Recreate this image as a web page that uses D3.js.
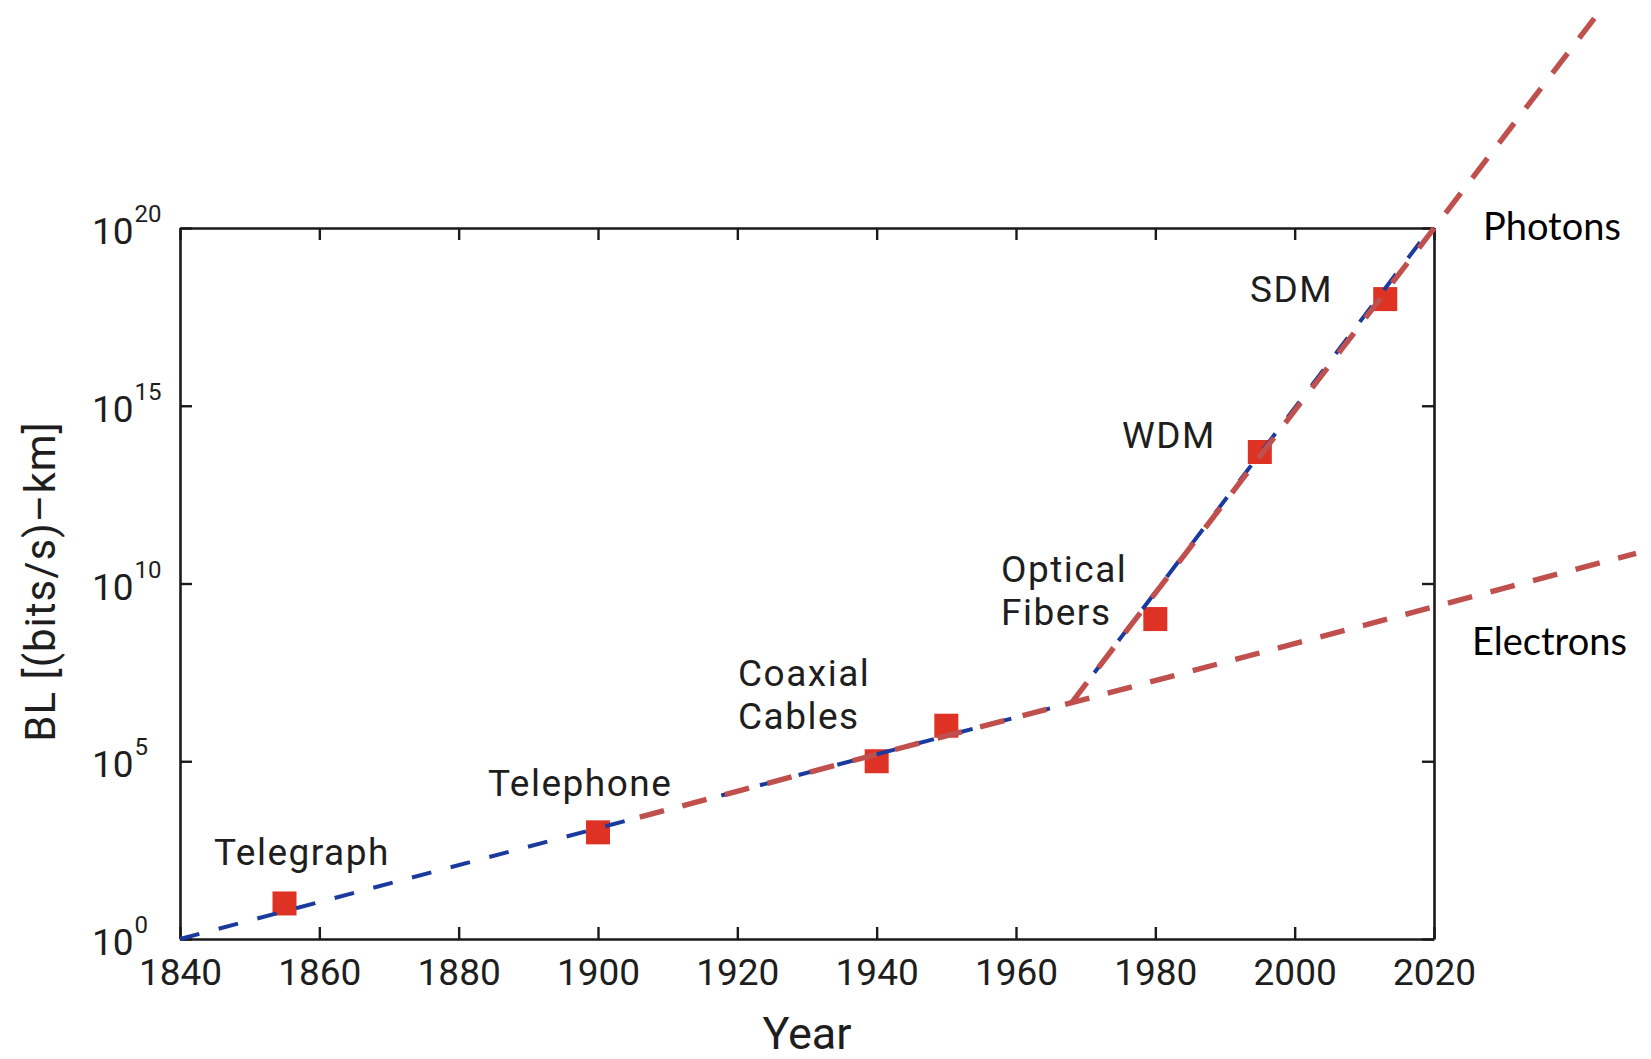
<!DOCTYPE html>
<html>
<head>
<meta charset="utf-8">
<script src="https://cdn.jsdelivr.net/npm/d3@7"></script>
<style>
  html, body { margin: 0; padding: 0; background: #fff; }
  svg { display: block; }
  .din { font-family: Roboto, "DejaVu Sans Condensed", sans-serif; fill: #1e1e1e; }
  .cal { font-family: Lato, "Open Sans", sans-serif; fill: #000; }
</style>
</head>
<body>
<svg id="chart" width="1651" height="1059"></svg>
<script>
// Milestones in transmission capacity (bit rate x distance)
const techNames = ["Telegraph", "Telephone", "Coaxial Cables", "", "Optical Fibers", "WDM", "SDM"];
const techYears = [1855, 1900, 1940, 1950, 1980, 1995, 2013];
const techBL    = [1e1, 1e3, 1e5, 1e6, 1e9, 5e13, 1e18];

// Fitted exponential growth (blue) and the two extrapolated regimes (red)
const trendYears = [1840, 1968, 2018];
const trendBL    = [1e0, Math.pow(10, 6.65), Math.pow(10, 19.6)];
const electronsYears = [1906, 2049];
const electronsBL    = [Math.pow(10, 3.43), Math.pow(10, 10.85)];
const photonsYears = [1968, 2044];
const photonsBL    = [Math.pow(10, 6.65), Math.pow(10, 26.15)];

// Axis ticks
const xTicks = [1840, 1860, 1880, 1900, 1920, 1940, 1960, 1980, 2000, 2020];
const yTicks = [1e0, 1e5, 1e10, 1e15, 1e20];
const yTickExp = ["0", "5", "10", "15", "20"];

const regimeNames = ["Photons", "Electrons"];

const svg = d3.select("#chart");
const plot = { left: 180, right: 1434, top: 228, bottom: 939 };

const x = d3.scaleLinear().domain([1840, 2020]).range([plot.left, plot.right]);
const y = d3.scaleLog().domain([1e0, 1e20]).range([plot.bottom, plot.top]);

// ---- axes (frame with inward ticks) ----
const axisStyle = g => {
  g.select(".domain").attr("stroke", "#1a1a1a").attr("stroke-width", 2.6);
  g.selectAll(".tick line").attr("stroke", "#1a1a1a").attr("stroke-width", 2.4);
};

svg.append("g")
  .attr("transform", `translate(0,${plot.bottom})`)
  .call(d3.axisBottom(x).tickValues(xTicks).tickFormat(d3.format("d"))
        .tickSizeInner(-12).tickSizeOuter(0).tickPadding(20))
  .call(axisStyle)
  .call(g => g.selectAll(".tick text")
    .attr("class", "din").attr("font-size", 37).attr("fill", "#1e1e1e"));

svg.append("g")
  .attr("transform", `translate(0,${plot.top})`)
  .call(d3.axisTop(x).tickValues(xTicks).tickFormat("").tickSizeInner(-12).tickSizeOuter(0))
  .call(axisStyle);

svg.append("g")
  .attr("transform", `translate(${plot.left},0)`)
  .call(d3.axisLeft(y).tickValues(yTicks).tickFormat("").tickSizeInner(-12).tickSizeOuter(0))
  .call(axisStyle);

svg.append("g")
  .attr("transform", `translate(${plot.right},0)`)
  .call(d3.axisRight(y).tickValues(yTicks).tickFormat("").tickSizeInner(-12).tickSizeOuter(0))
  .call(axisStyle);

// power-of-ten labels on the left
const yLab = svg.append("g").selectAll("text")
  .data(yTicks)
  .join("text")
  .attr("class", "din")
  .attr("x", 92)
  .attr("y", d => y(d) + 16)
  .attr("font-size", 37);
yLab.append("tspan").text("10");
yLab.append("tspan")
  .attr("dy", -22)
  .attr("dx", 1)
  .attr("font-size", 24)
  .text((d, i) => yTickExp[i]);

// axis titles
svg.append("text")
  .attr("class", "din")
  .attr("x", (plot.left + plot.right) / 2)
  .attr("y", 1049)
  .attr("text-anchor", "middle")
  .attr("font-size", 45)
  .text("Year");

svg.append("text")
  .attr("class", "din")
  .attr("transform", `translate(55,${(plot.top + plot.bottom) / 2 - 2}) rotate(-90)`)
  .attr("text-anchor", "middle")
  .attr("font-size", 42)
  .attr("letter-spacing", 1)
  .text("BL [(bits/s)–km]");

// ---- data markers ----
const sq = 24;
svg.append("g").selectAll("rect")
  .data(techYears)
  .join("rect")
  .attr("x", d => x(d) - sq / 2)
  .attr("y", (d, i) => y(techBL[i]) - sq / 2)
  .attr("width", sq)
  .attr("height", sq)
  .attr("fill", "#dd3224");

// ---- trend lines ----
const line = d3.line().x(d => x(d[0])).y(d => y(d[1]));

svg.append("path")
  .datum(trendYears.map((yr, i) => [yr, trendBL[i]]))
  .attr("d", line)
  .attr("fill", "none")
  .attr("stroke", "#1b3a9e")
  .attr("stroke-width", 4)
  .attr("stroke-dasharray", "20,20");

[[electronsYears, electronsBL], [photonsYears, photonsBL]].forEach(([yrs, vals]) => {
  svg.append("path")
    .datum(yrs.map((yr, i) => [yr, vals[i]]))
    .attr("d", line)
    .attr("fill", "none")
    .attr("stroke", "#c0504d")
    .attr("stroke-width", 5.4)
    .attr("stroke-dasharray", "25,19");
});

// ---- milestone labels (left edge, baseline of first line) ----
const labelPos = [
  [214, 865], [488, 796], [738, 686], null, [1001, 582], [1122, 448], [1250, 302]
];
const lineGap = 43;
techNames.forEach((name, i) => {
  if (!name) return;
  const [lx, ly] = labelPos[i];
  const words = name === "Coaxial Cables" || name === "Optical Fibers" ? name.split(" ") : [name];
  const t = svg.append("text").attr("class", "din")
    .attr("font-size", 37).attr("letter-spacing", 1.5);
  words.forEach((w, j) => {
    t.append("tspan").attr("x", lx).attr("y", ly + j * lineGap).text(w);
  });
});

// regime labels outside the frame
svg.append("text").attr("class", "cal").attr("font-size", 38)
  .attr("x", 1483).attr("y", 240).text(regimeNames[0]);
svg.append("text").attr("class", "cal").attr("font-size", 38)
  .attr("x", 1472).attr("y", 655).text(regimeNames[1]);
</script>
</body>
</html>
